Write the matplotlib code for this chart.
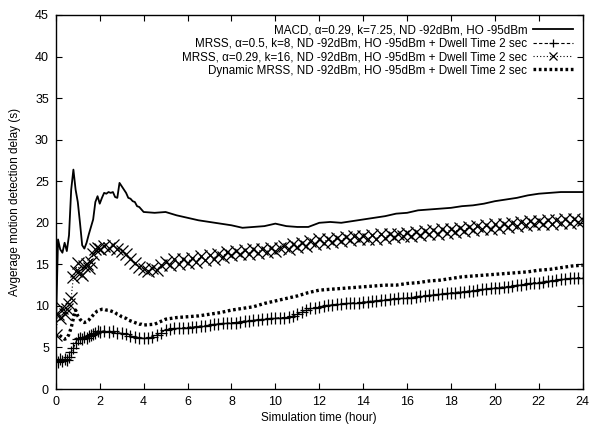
import numpy as np
import matplotlib
matplotlib.use("Agg")
import matplotlib.pyplot as plt

plt.rcParams['font.family'] = ['Liberation Sans', 'DejaVu Sans']

# time grid for the marker series (hours)
t_mark = np.round(np.concatenate([np.arange(0, 2.05, 0.1), np.arange(2.2, 24.05, 0.2)]), 2)
# time grid for the plain line series (hours)
t_line = np.round(np.concatenate([np.arange(0, 4.05, 0.1), np.arange(4.5, 24.05, 0.5)]), 2)

macd = [7.0, 18.0, 16.8, 16.4, 17.6, 16.6, 18.5, 24.0, 26.4, 24.0,
        22.5, 20.0, 17.3, 16.9, 17.6, 18.6, 19.5, 20.4, 22.5, 23.2,
        22.3, 23.0, 23.6, 23.5, 23.7, 23.6, 23.7, 23.1, 23.0, 24.8,
        24.4, 24.0, 23.6, 23.0, 22.9, 22.6, 22.5, 22.0, 21.9, 21.6,
        21.3,
        21.2, 21.3, 20.9, 20.6, 20.3, 20.1, 19.9, 19.7, 19.4, 19.5,
        19.6, 19.9, 19.6, 19.5, 19.5, 20.0, 20.1, 20.0, 20.2, 20.4,
        20.6, 20.8, 21.1, 21.2, 21.5, 21.6, 21.7, 21.8, 22.0, 22.1,
        22.3, 22.6, 22.8, 23.0, 23.3, 23.5, 23.6, 23.7, 23.7, 23.7]

dynamic = [6.3, 6.6, 6.4, 6.2, 6.0, 6.1, 6.6, 7.4, 8.5, 9.5,
           8.8, 8.4, 8.1, 8.0, 8.1, 8.3, 8.6, 8.9, 9.2, 9.4,
           9.5, 9.6, 9.6, 9.5, 9.5, 9.4, 9.3, 9.2, 9.0, 8.9,
           8.7, 8.6, 8.5, 8.3, 8.2, 8.1, 8.0, 7.9, 7.8, 7.8,
           7.7,
           7.8, 8.4, 8.6, 8.7, 8.8, 9.0, 9.2, 9.5, 9.7, 9.9,
           10.3, 10.6, 10.9, 11.2, 11.6, 11.9, 12.0, 12.1, 12.2, 12.3,
           12.4, 12.5, 12.5, 12.7, 12.8, 13.0, 13.1, 13.3, 13.5, 13.6,
           13.7, 13.8, 13.9, 14.0, 14.1, 14.3, 14.4, 14.6, 14.8, 14.9]

mrss_k8 = [3.5, 3.3, 3.6, 3.4, 3.6, 3.5, 3.8, 4.5, 4.9, 5.6,
           6.0, 6.2, 6.0, 6.3, 6.2, 6.4, 6.5, 6.6, 6.8, 7.0, 6.9,
           7.0, 6.9, 7.0, 6.8, 6.7, 6.6, 6.4, 6.3, 6.2, 6.1,
           6.2, 6.3, 6.5, 6.8, 7.1, 7.2, 7.3, 7.3, 7.4, 7.4,
           7.5, 7.5, 7.6, 7.6, 7.7, 7.8, 7.8, 7.9, 7.9, 8.0,
           8.0, 8.1, 8.2, 8.2, 8.3, 8.3, 8.4, 8.4, 8.5, 8.5,
           8.6, 8.6, 8.7, 8.8, 9.0, 9.3, 9.5, 9.7, 9.8, 9.9,
           10.0, 10.1, 10.1, 10.2, 10.2, 10.3, 10.3, 10.4, 10.4, 10.5,
           10.5, 10.6, 10.6, 10.7, 10.7, 10.8, 10.8, 10.9, 10.9, 11.0,
           11.0, 11.1, 11.2, 11.2, 11.3, 11.3, 11.4, 11.4, 11.5, 11.6,
           11.6, 11.7, 11.7, 11.8, 11.8, 11.9, 12.0, 12.0, 12.1, 12.2,
           12.2, 12.3, 12.3, 12.4, 12.5, 12.5, 12.6, 12.7, 12.8, 12.8,
           12.9, 13.0, 13.0, 13.1, 13.2, 13.2, 13.3, 13.3, 13.4, 13.4]

mrss_k16 = [6.5, 9.0, 8.6, 9.8, 9.0, 9.6, 10.2, 11.0, 13.5, 14.2,
            15.2, 14.0, 13.7, 14.8, 15.0, 14.6, 15.3, 16.2, 16.8, 17.0, 16.8,
            17.2, 17.0, 17.3, 16.9, 16.6, 16.3, 15.6, 15.2, 14.7, 14.5,
            14.2, 14.6, 14.3, 14.9, 15.3, 14.9, 15.6, 15.1, 15.7, 15.2,
            15.8, 15.3, 16.0, 15.5, 16.1, 15.7, 16.3, 15.9, 16.5, 16.1,
            16.6, 16.2, 16.7, 16.3, 16.8, 16.4, 16.9, 16.5, 17.0, 16.6,
            17.0, 17.2, 16.8, 17.4, 17.1, 17.6, 17.2, 17.8, 17.4, 18.0,
            17.6, 18.1, 17.7, 18.2, 17.8, 18.3, 17.9, 18.4, 18.0, 18.4,
            18.0, 18.5, 18.1, 18.6, 18.2, 18.7, 18.3, 18.7, 18.4, 18.8,
            18.4, 18.9, 18.5, 19.0, 18.6, 19.1, 18.7, 19.2, 18.8, 19.3,
            18.9, 19.4, 19.0, 19.5, 19.1, 19.6, 19.2, 19.7, 19.3, 19.8,
            19.4, 19.9, 19.5, 20.0, 19.6, 20.1, 19.7, 20.2, 19.8, 20.2,
            19.8, 20.3, 19.9, 20.3, 20.0, 20.4, 20.0, 20.4, 20.1, 20.3]

labels = ["MACD, \u03b1=0.29, k=7.25, ND -92dBm, HO -95dBm",
          "MRSS, \u03b1=0.5, k=8, ND -92dBm, HO -95dBm + Dwell Time 2 sec",
          "MRSS, \u03b1=0.29, k=16, ND -92dBm, HO -95dBm + Dwell Time 2 sec",
          "Dynamic MRSS, ND -92dBm, HO -95dBm + Dwell Time 2 sec"]

fig = plt.figure(figsize=(5.94, 4.28), dpi=100)
ax = fig.add_axes([0.094, 0.091, 0.887, 0.874])

ax.plot(t_line, macd, color='black', lw=1.3, label=labels[0])
ax.plot(t_mark, mrss_k8, color='black', lw=0.8, ls=(0, (3, 2)),
        marker='+', ms=8.5, mew=0.9, label=labels[1])
ax.plot(t_mark, mrss_k16, color='black', lw=0.8, ls=(0, (1, 2)),
        marker='x', ms=8.5, mew=0.9, label=labels[2])
ax.plot(t_line, dynamic, color='black', lw=2.4, ls=(0, (0.8, 0.8)),
        label=labels[3])

ax.set_xlim(0, 24)
ax.set_ylim(0, 45)
ax.set_xticks(np.arange(0, 25, 2))
ax.set_yticks(np.arange(0, 46, 5))
ax.tick_params(direction='in', top=True, right=True, length=4, width=0.8,
               labelsize=9, pad=5)
for s in ax.spines.values():
    s.set_linewidth(1.0)

ax.set_xlabel("Simulation time (hour)", fontsize=8.5, labelpad=3)
ax.set_ylabel("Avgerage motion detection delay (s)", fontsize=8.5, labelpad=10)

ax.legend(loc='upper right', frameon=False, markerfirst=False, fontsize=8.4,
          handlelength=3.5, handletextpad=0.45, labelspacing=0.12,
          borderpad=0.2, borderaxespad=0.6, markerscale=0.75)

fig.savefig("out.png", dpi=100)
